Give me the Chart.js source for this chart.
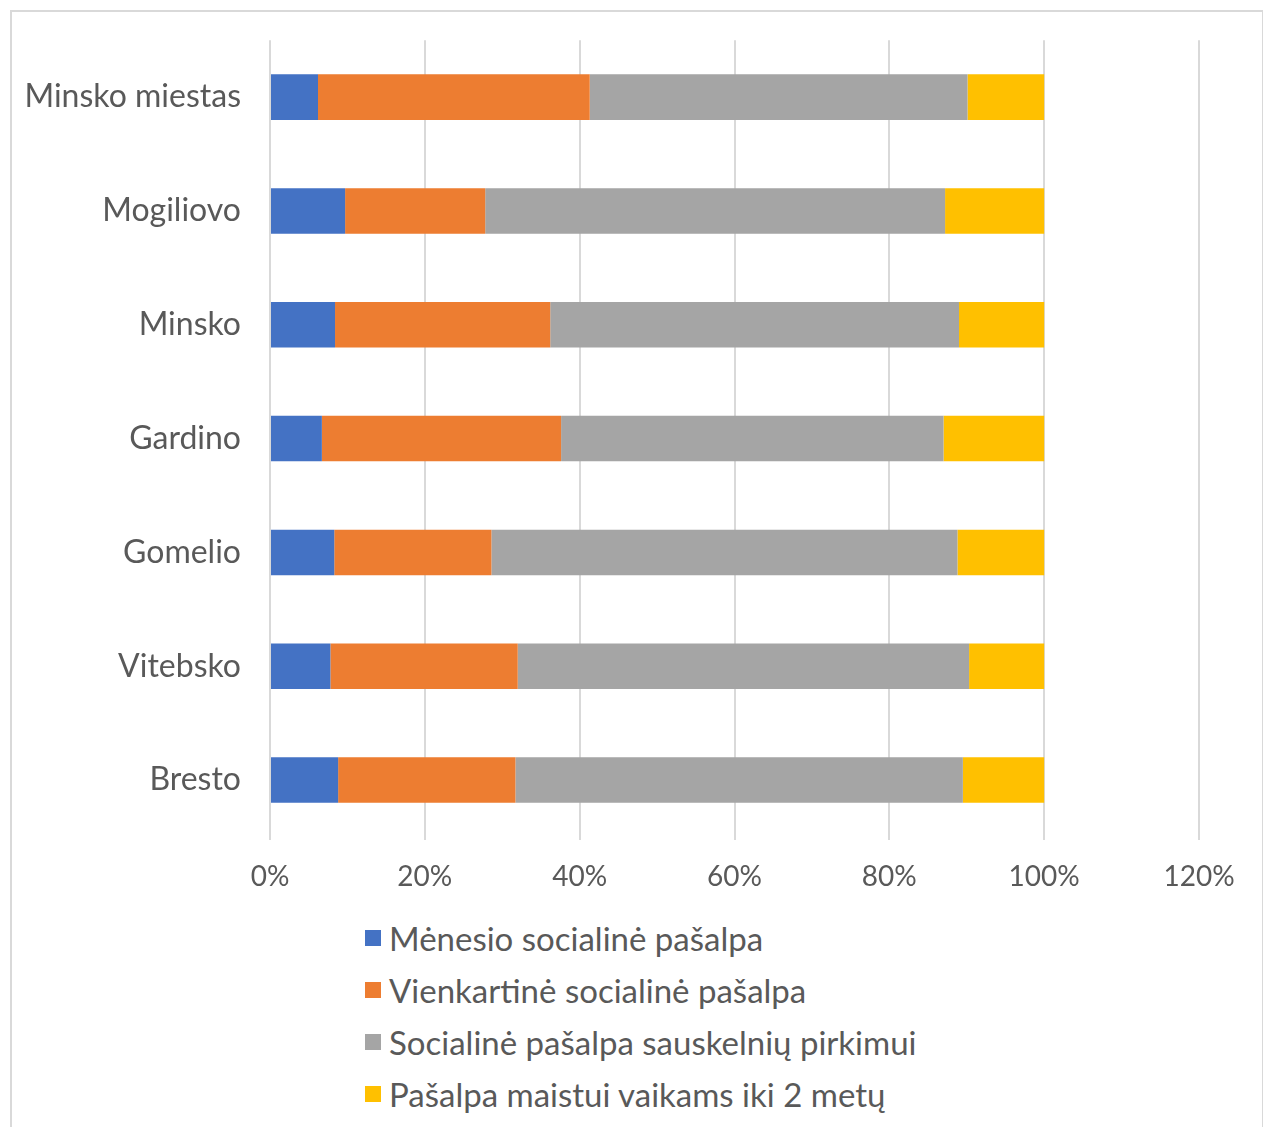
<!DOCTYPE html>
<html>
<head>
<meta charset="utf-8">
<script src="https://cdn.jsdelivr.net/npm/chart.js@4.4.1/dist/chart.umd.min.js"></script>
<style>
	body { margin: 0; background: #fff; font-family: 'Lato', sans-serif; }
	.frame { position: absolute; left: 10px; top: 10px; width: 1250px; height: 1130px; border: 2px solid #d9d9d9; }
	.wrap { position: absolute; left: 0; top: 0; width: 1263px; height: 910px; }
	#legend { position: absolute; left: 365px; top: 912px; list-style: none; margin: 0; padding: 0; }
	#legend li { height: 52px; line-height: 52px; font-size: 33px; color: #595959; display: flex; align-items: center; }
	#legend i { display: inline-block; width: 16px; height: 16px; margin-right: 8px; }
</style>
</head>
<body>
<div class="frame"></div>
<div class="wrap"><canvas id="chart" width="1263" height="910"></canvas></div>
<ul id="legend"></ul>
<script>
const regions = ['Minsko miestas', 'Mogiliovo', 'Minsko', 'Gardino', 'Gomelio', 'Vitebsko', 'Bresto'];
const seriesNames = [
	'Mėnesio socialinė pašalpa',
	'Vienkartinė socialinė pašalpa',
	'Socialinė pašalpa sauskelnių pirkimui',
	'Pašalpa maistui vaikams iki 2 metų'
];
const monthly = [6.2, 9.7, 8.4, 6.7, 8.3, 7.8, 8.8];
const oneTime = [35.1, 18.1, 27.8, 30.9, 20.3, 24.2, 22.9];
const diapers = [48.8, 59.4, 52.8, 49.4, 60.2, 58.3, 57.8];
const food = [9.9, 12.8, 11.0, 13.0, 11.2, 9.7, 10.5];
const colors = ['#4472C4', '#ED7D31', '#A5A5A5', '#FFC000'];

const textColor = '#595959';

const data = {
	labels: regions,
	datasets: [monthly, oneTime, diapers, food].map((vals, i) => ({
		label: seriesNames[i],
		data: vals,
		backgroundColor: colors[i],
		borderWidth: 0,
		barPercentage: 0.4,
		categoryPercentage: 1
	}))
};

const ctx = document.getElementById('chart').getContext('2d');
const chart = new Chart(ctx, {
	type: 'bar',
	data: data,
	options: {
		indexAxis: 'y',
		responsive: false,
		animation: false,
		layout: { padding: { left: 10, right: 64, top: 33, bottom: 0 } },
		plugins: {
			legend: { display: false },
			tooltip: { enabled: false }
		},
		scales: {
			x: {
				stacked: true,
				min: 0,
				max: 120,
				border: { display: false },
				grid: { color: '#d9d9d9', lineWidth: 2, tickLength: 3, drawTicks: true },
				ticks: {
					stepSize: 20,
					color: textColor,
					font: { family: 'Lato', size: 28 },
					padding: 20,
					callback: v => v + '%'
				},
				afterFit: s => { s.height = 73; }
			},
			y: {
				stacked: true,
				border: { display: false },
				grid: { display: false },
				ticks: { color: textColor, font: { family: 'Lato', size: 32 }, padding: 21 },
				afterFit: s => { s.width = 260; }
			}
		}
	}
});

const legend = document.getElementById('legend');
chart.data.datasets.forEach(ds => {
	const li = document.createElement('li');
	const box = document.createElement('i');
	box.style.background = ds.backgroundColor;
	li.appendChild(box);
	li.appendChild(document.createTextNode(ds.label));
	legend.appendChild(li);
});
</script>
</body>
</html>
